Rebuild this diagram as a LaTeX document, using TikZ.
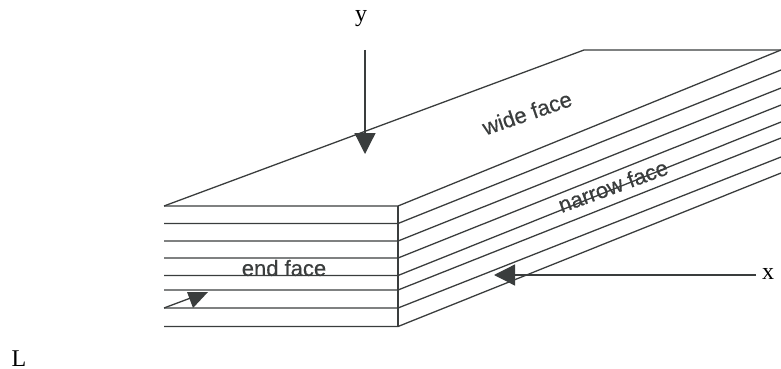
\documentclass[tikz,border=0pt]{standalone}
\usepackage{fontspec}
\setmainfont{Liberation Serif}
\newfontfamily\facefont[FakeBold=0.4]{Liberation Sans}
\usetikzlibrary{arrows.meta}
\definecolor{inkgray}{HTML}{3A3D3D}
\tikzset{
  edgeline/.style={draw=inkgray, line width=1.3pt},
  arrowline/.style={edgeline, -{Triangle[length=21pt,width=21pt]}},
  axislabel/.style={text=black, font=\fontsize{24}{24}\selectfont, inner sep=0},
  facelabel/.style={text=inkgray, font=\facefont\fontsize{22}{22}\selectfont, inner sep=0}
}
\begin{document}
\begin{tikzpicture}[x=1pt, y=-1pt]
  \useasboundingbox (0,0) rectangle (781,369);
  % layers, front edge and far edge
  \foreach \yfront/\yback [count=\i] in {206/50, 223.5/70, 241/88, 258/105, 275.5/122, 290/138, 308/157, 326.5/173} {
    \coordinate (left\i) at (164,\yfront);
    \coordinate (front\i) at (398,\yfront);
    \coordinate (back\i) at (781,\yback);
    \draw[edgeline] (left\i) -- (front\i) -- (back\i);
  }
  \draw[edgeline] (front1) -- (front8);
  % top of the board
  \coordinate (topback) at (584,50);
  \draw[edgeline] (left1) -- (topback) -- (back1);
  % labels
  \node[axislabel] (ylabel) at (361,19) {y};
  \node[axislabel] (xlabel) at (768,274) {x};
  \node[axislabel, anchor=base] (llabel) at (19,366) {L};
  \node[facelabel] (endface) at (284,268) {end face};
  \node[facelabel, rotate=19] (wideface) at (527,113) {wide face};
  \node[facelabel, rotate=20] (narrowface) at (613,186) {narrow face};
  % arrows
  \coordinate (ystart) at (365,50);
  \coordinate (ytip) at (365,154);
  \coordinate (xtip) at (494,275);
  \coordinate (xstart) at (756,275);
  \draw[arrowline] (ystart) -- (ytip);
  \draw[arrowline] (xstart) -- (xtip);
  \coordinate (ltip) at (193,308);
  \coordinate (lend) at (196,296);
  \draw[edgeline] (left7) -- (lend);
  \fill[inkgray] (187,292) -- (208,292) -- (ltip) -- cycle;
\end{tikzpicture}
\end{document}
